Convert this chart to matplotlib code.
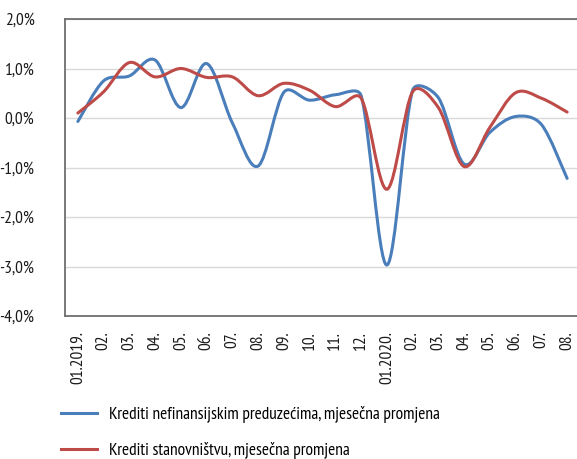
import matplotlib.pyplot as plt
import numpy as np
from matplotlib.path import Path
from matplotlib.patches import PathPatch
from matplotlib.lines import Line2D

plt.rcParams["font.family"] = ["PT Sans Narrow", "Roboto Condensed", "Fira Sans Condensed",
                               "Archivo Narrow", "DejaVu Sans"]

months = ["01.2019.", "02.", "03.", "04.", "05.", "06.", "07.", "08.", "09.", "10.",
          "11.", "12.", "01.2020.", "02.", "03.", "04.", "05.", "06.", "07.", "08."]

preduzeca = [-0.07, 0.75, 0.85, 1.17, 0.21, 1.10, -0.10, -0.97, 0.52, 0.36,
             0.47, 0.45, -2.97, 0.56, 0.41, -0.93, -0.29, 0.03, -0.13, -1.22]
stanovnistvo = [0.10, 0.53, 1.12, 0.83, 1.00, 0.82, 0.83, 0.45, 0.70, 0.56,
                0.23, 0.40, -1.44, 0.53, 0.21, -0.98, -0.19, 0.51, 0.40, 0.12]

labels = ["Krediti nefinansijskim preduzećima, mjesečna promjena",
          "Krediti stanovništvu, mjesečna promjena"]
colors = ["#4A7EBB", "#BE4B48"]

# pixel size of one x step and of 1 % on y, so the smoothing works in screen space
SX, SY = 25.7, 49.5


def smooth_path(xs, ys):
    # Catmull-Rom style arms, clamped so short segments do not overshoot
    pts = np.column_stack([np.asarray(xs) * SX, np.asarray(ys) * SY]).astype(float)
    n = len(pts)
    tang = [(pts[min(i + 1, n - 1)] - pts[max(i - 1, 0)]) / 6 for i in range(n)]

    def arm(t, seg):
        ln = np.linalg.norm(t)
        lim = 0.4 * seg
        return t if ln <= lim or ln == 0 else t * lim / ln

    verts = [pts[0]]
    codes = [Path.MOVETO]
    for i in range(n - 1):
        p1, p2 = pts[i], pts[i + 1]
        seg = np.linalg.norm(p2 - p1)
        verts += [p1 + arm(tang[i], seg), p2 - arm(tang[i + 1], seg), p2]
        codes += [Path.CURVE4] * 3
    verts = np.array(verts) / [SX, SY]
    return Path(verts, codes)


fig = plt.figure(figsize=(5.77, 4.59), dpi=100)
ax = fig.add_axes([65 / 577, 143 / 459, 515 / 577, 297 / 459])

x = np.arange(len(months))
for vals, col in zip([preduzeca, stanovnistvo], colors):
    patch = PathPatch(smooth_path(x, vals), facecolor="none", edgecolor=col,
                      lw=2.2, capstyle="round", joinstyle="round", zorder=3)
    ax.add_patch(patch)

ax.set_xlim(-0.5, len(months) - 0.5)
ax.set_ylim(-4, 2)
ax.set_yticks(np.arange(-4, 2.1, 1))
ax.set_yticklabels([f"{v:.1f}%".replace(".", ",") for v in np.arange(-4, 2.1, 1)])
ax.set_xticks(x)
ax.set_xticklabels(months, rotation=90)
ax.tick_params(axis="both", length=0, labelsize=12.5, colors="#1a1a1a")
ax.tick_params(axis="x", pad=11)
ax.tick_params(axis="y", pad=22)

ax.grid(axis="y", color="#d9d9d9", lw=1.0)
ax.set_axisbelow(True)
for side in ["left", "bottom", "top"]:
    ax.spines[side].set_color("#6e6e6e")
    ax.spines[side].set_linewidth(1.3)
ax.spines["right"].set_visible(False)

handles = [Line2D([], [], color=c, lw=2.2) for c in colors]
fig.legend(handles, labels, loc="upper left", bbox_to_anchor=(45 / 577, 1 - 390 / 459),
           frameon=False, fontsize=12.5, handlelength=2.1, handletextpad=0.7,
           labelspacing=1.1)

fig.savefig("out.png", dpi=100)
